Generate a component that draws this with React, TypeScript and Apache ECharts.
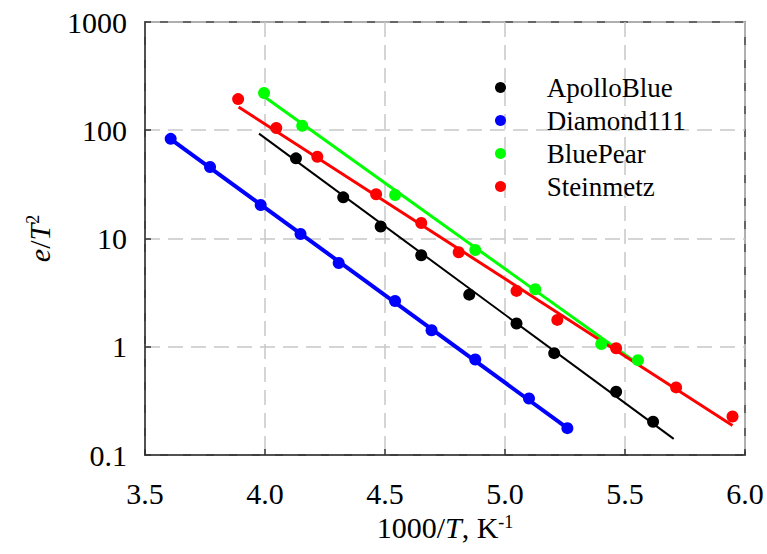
import React, { useEffect, useRef } from "react";
import * as echarts from "echarts";

const seriesNames = ["ApolloBlue", "Diamond111", "BluePear", "Steinmetz"];
const seriesColors = ["#000000", "#0000ff", "#00ff00", "#ff0000"];
const fitWidths = [2, 4, 3, 3];

const apolloX = [4.129, 4.326, 4.482, 4.651, 4.851, 5.048, 5.205, 5.463, 5.617];
const apolloY = [55, 24.0, 12.9, 7.0, 3.03, 1.64, 0.873, 0.384, 0.203];
const diamondX = [3.607, 3.771, 3.982, 4.148, 4.307, 4.542, 4.694, 4.876, 5.1, 5.26];
const diamondY = [83.3, 45.7, 20.4, 11.0, 5.94, 2.65, 1.42, 0.762, 0.333, 0.177];
const pearX = [3.996, 4.155, 4.542, 4.876, 5.126, 5.401, 5.554];
const pearY = [221, 110, 25.2, 7.83, 3.4, 1.06, 0.752];
const steinX = [3.888, 4.047, 4.218, 4.463, 4.651, 4.807, 5.048, 5.218, 5.463, 5.713, 5.948];
const steinY = [194, 105, 56.9, 25.6, 13.9, 7.46, 3.28, 1.77, 0.97, 0.421, 0.227];

// fitted-line end points [x0, x1] and [y0, y1]
const apolloFitX = [3.975, 5.703];
const apolloFitY = [93, 0.141];
const diamondFitX = [3.607, 5.26];
const diamondFitY = [83, 0.177];
const pearFitX = [3.996, 5.54];
const pearFitY = [205, 0.73];
const steinFitX = [3.89, 5.948];
const steinFitY = [164, 0.187];

const xTicks = [3.5, 4.0, 4.5, 5.0, 5.5, 6.0];
const yTickLabels = ["0.1", "1", "10", "100", "1000"];

const pointsX = [apolloX, diamondX, pearX, steinX];
const pointsY = [apolloY, diamondY, pearY, steinY];
const fitsX = [apolloFitX, diamondFitX, pearFitX, steinFitX];
const fitsY = [apolloFitY, diamondFitY, pearFitY, steinFitY];

const FONT = "Liberation Serif";

export default function App() {
  const ref = useRef<HTMLDivElement>(null);
  useEffect(() => {
    if (!ref.current) return;
    const chart = echarts.init(ref.current, undefined, { renderer: "svg" });
    const zip = (xs: number[], ys: number[]) => xs.map((x, i) => [x, ys[i]]);
    const lineSeries = seriesNames.map((n, i) => ({
      name: n + " fit",
      type: "line",
      data: zip(fitsX[i], fitsY[i]),
      showSymbol: false,
      symbol: "none",
      lineStyle: { color: seriesColors[i], width: fitWidths[i] },
      z: 2,
    }));
    const scatterSeries = seriesNames.map((n, i) => ({
      name: n,
      type: "scatter",
      data: zip(pointsX[i], pointsY[i]),
      symbol: "circle",
      symbolSize: 12,
      itemStyle: { color: seriesColors[i], opacity: 1 },
      z: 3,
    }));
    const rich = {
      n: { fontFamily: FONT, fontSize: 30, color: "#000", lineHeight: 30 },
      i: { fontFamily: FONT, fontSize: 30, fontStyle: "italic", color: "#000", lineHeight: 30 },
      s: { fontFamily: FONT, fontSize: 18, color: "#000", lineHeight: 18, verticalAlign: "top" },
    };
    chart.setOption({
      animation: false,
      backgroundColor: "#ffffff",
      textStyle: { fontFamily: FONT, fontSize: 30 },
      grid: {
        left: 145,
        right: 22,
        top: 22,
        bottom: 99,
        show: true,
        borderColor: "#333333",
        borderWidth: 1.5,
        backgroundColor: "transparent",
      },
      legend: {
        data: seriesNames,
        orient: "vertical",
        left: 490,
        top: 69,
        icon: "circle",
        itemWidth: 11,
        itemHeight: 11,
        itemGap: 6,
        textStyle: {
          fontFamily: FONT,
          fontSize: 27,
          color: "#000",
          lineHeight: 27,
          padding: [0, 0, 0, 35.7],
        },
      },
      xAxis: {
        type: "value",
        min: 3.5,
        max: 6.0,
        interval: 0.5,
        axisLine: { show: true, lineStyle: { color: "#333", width: 1.5 } },
        axisTick: { show: true, inside: true, length: 6, lineStyle: { color: "#333", width: 1.5 } },
        axisLabel: {
          color: "#000",
          fontFamily: FONT,
          fontSize: 30,
          margin: 23,
          formatter: (v: number) => {
            const t = xTicks.find((k) => Math.abs(k - v) < 1e-6);
            return t !== undefined ? "{n|" + t.toFixed(1) + "}" : "";
          },
          rich,
        },
        splitLine: { show: true, lineStyle: { color: "#c8c8c8", width: 1.5, type: [15, 8] } },
        name: "{n|1000/}{i|T}{n|, K}{s|-1}",
        nameLocation: "middle",
        nameGap: 57,
        nameTextStyle: { rich },
      },
      yAxis: {
        type: "log",
        logBase: 10,
        min: 0.1,
        max: 1000,
        axisLine: { show: true, lineStyle: { color: "#333", width: 1.5 } },
        axisTick: { show: true, inside: true, length: 6, lineStyle: { color: "#333", width: 1.5 } },
        minorTick: { show: false },
        axisLabel: {
          color: "#000",
          fontFamily: FONT,
          fontSize: 30,
          margin: 18,
          formatter: (v: number) => {
            const idx = Math.round(Math.log10(v)) + 1;
            const s = yTickLabels[idx];
            return s ? "{n|" + s + "}" : "";
          },
          rich,
        },
        splitLine: { show: true, lineStyle: { color: "#c8c8c8", width: 1.5, type: [15, 8] } },
        name: "{i|e}{n|/}{i|T}{s|2}",
        nameLocation: "middle",
        nameRotate: 90,
        nameGap: 91,
        nameTextStyle: { rich },
      },
      series: [...lineSeries, ...scatterSeries],
    });
    return () => chart.dispose();
  }, []);
  return (
    <div
      ref={ref}
      style={{ position: "absolute", left: 0, top: 0, width: 767, height: 554 }}
    />
  );
}
